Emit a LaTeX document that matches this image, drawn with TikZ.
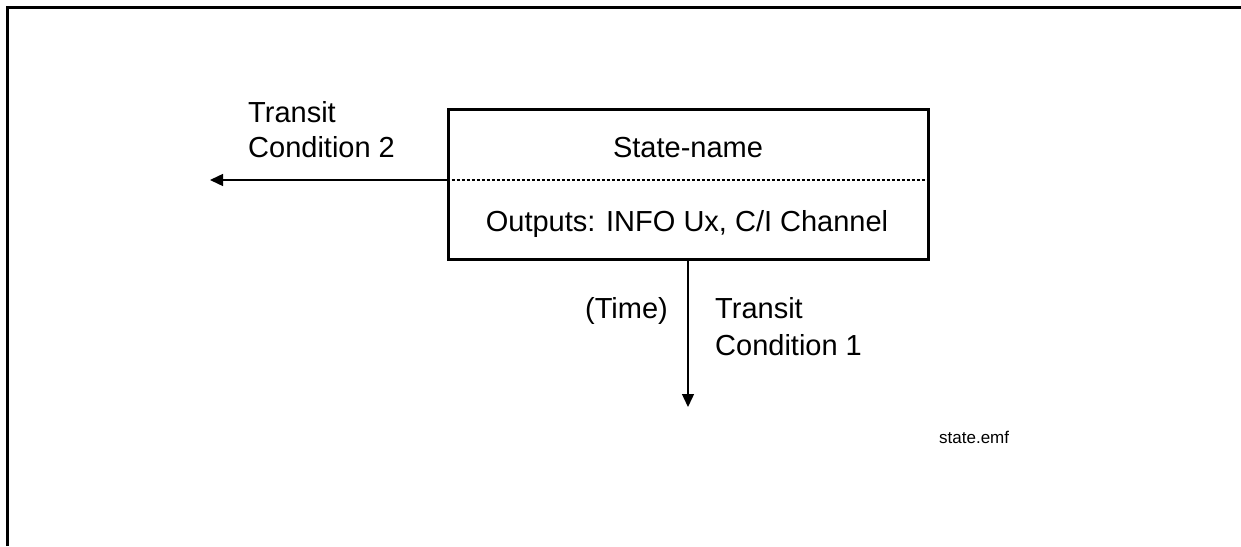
\documentclass[tikz,border=0pt]{standalone}
\usepackage{fontspec}
\setmainfont{Liberation Sans}
\usetikzlibrary{arrows.meta}
\begin{document}
\begin{tikzpicture}[x=1pt,y=-1pt,
  lbl/.style={font=\fontsize{29}{35}\selectfont, inner sep=0pt, align=left},
  small/.style={font=\fontsize{17}{20}\selectfont, inner sep=0pt},
  statebox/.style={draw, line width=3pt, minimum width=480pt, minimum height=150pt, inner sep=0pt},
  conn/.style={line width=1.4pt, -{Triangle[length=13pt,width=12pt]}},
  sep/.style={line width=1.2pt, dash pattern=on 3pt off 2pt}]
\useasboundingbox (0,0) rectangle (1241,546);
\draw[line width=2.8pt] (7.7,546) -- (7.7,7.2) -- (1241,7.2);
\node[statebox] (box) at (688,184) {};
\coordinate (mid) at (688,180);
\coordinate (c2end) at (210,180);
\coordinate (c1end) at (688,407);
\draw[sep] (box.west |- mid) -- (box.east |- mid);
\node[lbl, anchor=base] (name) at (688,157) {State-name};
\node[lbl, anchor=base] (outs) at (687,231) {Outputs: INFO Ux, C/I Channel};
\draw[conn] (box.west |- mid) -- (c2end);
\draw[conn] (box.south) -- (c1end);
\node[lbl, anchor=base west] (tc2a) at (248,122) {Transit};
\node[lbl, anchor=base west] (tc2b) at (248,157) {Condition 2};
\node[lbl, anchor=base east] (time) at (668,318) {(Time)};
\node[lbl, anchor=base west] (tc1a) at (715,318) {Transit};
\node[lbl, anchor=base west] (tc1b) at (715,355) {Condition 1};
\node[small, anchor=base west] (file) at (939,443) {state.emf};
\end{tikzpicture}
\end{document}
